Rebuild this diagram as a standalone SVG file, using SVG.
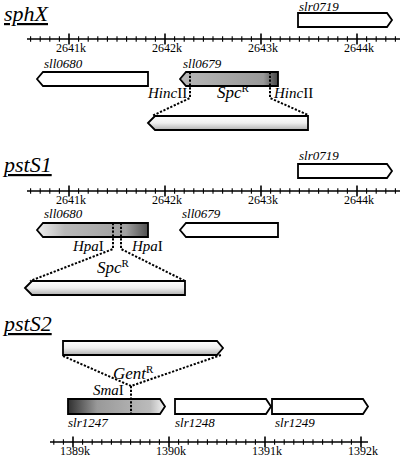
<svg xmlns="http://www.w3.org/2000/svg" width="400" height="456" viewBox="0 0 400 456">
<defs>
<style>
text{font-family:'Liberation Serif','DejaVu Serif',serif;fill:#000}
.t{font-size:22px;font-style:italic;text-decoration:underline}
.ax{font-size:12px;text-anchor:middle}
.g{font-size:13px;font-style:italic}
.site{font-size:15px}
.res{font-size:17px}
.i{font-style:italic}
.gene{stroke:#000;stroke-width:1.8;stroke-linejoin:miter}
.white{fill:#fff}
.axis{stroke:#000;stroke-width:1.6;fill:none}
.minor{stroke:#000;stroke-width:1.1;fill:none}
.dot{stroke:#000;stroke-width:2;stroke-dasharray:2.2,1.6;fill:none}
</style>
<linearGradient id="ins" x1="0" y1="0" x2="0" y2="1">
<stop offset="0" stop-color="#ffffff"/>
<stop offset="0.5" stop-color="#eeeeee"/>
<stop offset="1" stop-color="#b0b0b0"/>
</linearGradient>
<linearGradient id="g679" x1="0" y1="0" x2="1" y2="0">
<stop offset="0" stop-color="#b8b8b8"/>
<stop offset="0.85" stop-color="#999"/>
<stop offset="1" stop-color="#444"/>
</linearGradient>
<linearGradient id="g680" x1="0" y1="0" x2="1" y2="0">
<stop offset="0" stop-color="#f0f0f0"/>
<stop offset="0.25" stop-color="#b8b8b8"/>
<stop offset="0.8" stop-color="#a0a0a0"/>
<stop offset="1" stop-color="#505050"/>
</linearGradient>
<linearGradient id="g1247" x1="0" y1="0" x2="1" y2="0">
<stop offset="0" stop-color="#303030"/>
<stop offset="0.3" stop-color="#999"/>
<stop offset="0.85" stop-color="#bbb"/>
<stop offset="1" stop-color="#f4f4f4"/>
</linearGradient>
<path id="ticks1" class="minor" d="M30.6,-2.8v5.6M40.2,-2.8v5.6M49.8,-2.8v5.6M59.4,-2.8v5.6M78.6,-2.8v5.6M88.2,-2.8v5.6M97.8,-2.8v5.6M107.4,-2.8v5.6M117,-2.8v5.6M126.6,-2.8v5.6M136.2,-2.8v5.6M145.8,-2.8v5.6M155.4,-2.8v5.6M174.6,-2.8v5.6M184.2,-2.8v5.6M193.8,-2.8v5.6M203.4,-2.8v5.6M213,-2.8v5.6M222.6,-2.8v5.6M232.2,-2.8v5.6M241.8,-2.8v5.6M251.4,-2.8v5.6M270.6,-2.8v5.6M280.2,-2.8v5.6M289.8,-2.8v5.6M299.4,-2.8v5.6M309,-2.8v5.6M318.6,-2.8v5.6M328.2,-2.8v5.6M337.8,-2.8v5.6M347.4,-2.8v5.6M366.6,-2.8v5.6M376.2,-2.8v5.6M385.8,-2.8v5.6M395.4,-2.8v5.6"/>
<path id="major1" class="axis" d="M27,0H400M69,-5.5v11M165,-5.5v11M261,-5.5v11M357,-5.5v11"/>
</defs>

<g font-family="Liberation Serif, DejaVu Serif, serif">
<!-- sphX -->
<g id="title-sphX"><text class="t" x="4" y="21">sphX</text></g>
<g id="axis-sphX" transform="translate(0,39)">
<use href="#ticks1"/><use href="#major1"/>
<text class="ax" x="71" y="13">2641k</text><text class="ax" x="167" y="13">2642k</text><text class="ax" x="263" y="13">2643k</text><text class="ax" x="359" y="13">2644k</text>
</g>
<g id="sphX-slr0719"><polygon class="gene white" points="298,13 387,13 392,20 387,27 298,27"/><text class="g" x="299" y="11">slr0719</text></g>
<g id="sphX-sll0680"><polygon class="gene white" points="37,79 43,72 148,72 148,86 43,86"/><text class="g" x="44" y="68">sll0680</text></g>
<g id="sphX-sll0679"><polygon class="gene" fill="url(#g679)" points="180,79 186,72 278,72 278,86 186,86"/><text class="g" x="183" y="68">sll0679</text></g>
<g id="sphX-hinc-left"><text class="site" x="148" y="98"><tspan class="i">Hinc</tspan>II</text></g>
<g id="sphX-hinc-right"><text class="site" x="274" y="98"><tspan class="i">Hinc</tspan>II</text></g>
<g id="sphX-spc"><polygon class="gene" fill="url(#ins)" points="148,123 155,116 308,116 308,130 155,130"/><text class="res" x="217" y="98"><tspan class="i">Spc</tspan><tspan font-size="11" dy="-6">R</tspan></text></g>

<!-- pstS1 -->
<g id="title-pstS1"><text class="t" x="4" y="172">pstS1</text></g>
<g id="axis-pstS1" transform="translate(0,191)">
<use href="#ticks1"/><use href="#major1"/>
<text class="ax" x="71" y="13">2641k</text><text class="ax" x="167" y="13">2642k</text><text class="ax" x="263" y="13">2643k</text><text class="ax" x="359" y="13">2644k</text>
</g>
<g id="pstS1-slr0719"><polygon class="gene white" points="298,164 387,164 392,171 387,178 298,178"/><text class="g" x="299" y="160">slr0719</text></g>
<g id="pstS1-sll0680"><polygon class="gene" fill="url(#g680)" points="37,230 43,223 148,223 148,237 43,237"/><text class="g" x="44" y="218">sll0680</text></g>
<g id="pstS1-sll0679"><polygon class="gene white" points="180,230 186,223 278,223 278,237 186,237"/><text class="g" x="182" y="218">sll0679</text></g>
<g id="pstS1-hpa-left"><text class="site" x="73" y="251"><tspan class="i">Hpa</tspan>I</text></g>
<g id="pstS1-hpa-right"><text class="site" x="132" y="251"><tspan class="i">Hpa</tspan>I</text></g>
<g id="pstS1-spc"><polygon class="gene" fill="url(#ins)" points="25,288 32,281 185,281 185,295 32,295"/><text class="res" x="97" y="273"><tspan class="i">Spc</tspan><tspan font-size="11" dy="-6">R</tspan></text></g>

<!-- pstS2 -->
<g id="title-pstS2"><text class="t" x="4" y="331">pstS2</text></g>
<g id="pstS2-gent"><polygon class="gene" fill="url(#ins)" points="63,341 217,341 223,348 217,355 63,355"/><text class="res" x="113" y="379"><tspan class="i">Gent</tspan><tspan font-size="11" dy="-6">R</tspan></text></g>
<g id="pstS2-sma"><text class="site" x="93" y="395"><tspan class="i">Sma</tspan>I</text></g>
<g id="pstS2-slr1247"><polygon class="gene" fill="url(#g1247)" points="68,399 160,399 165,406.5 160,414 68,414"/><text class="g" x="68" y="427">slr1247</text></g>
<g id="pstS2-slr1248"><polygon class="gene white" points="175,399 266,399 271,406.5 266,414 175,414"/><text class="g" x="175" y="427">slr1248</text></g>
<g id="pstS2-slr1249"><polygon class="gene white" points="272,399 363,399 368,406.5 363,414 272,414"/><text class="g" x="275" y="427">slr1249</text></g>
<g id="axis-pstS2" transform="translate(0,442)">
<path class="minor" d="M53.8,-2.8v5.6M63.4,-2.8v5.6M82.6,-2.8v5.6M92.2,-2.8v5.6M101.8,-2.8v5.6M111.4,-2.8v5.6M121,-2.8v5.6M130.6,-2.8v5.6M140.2,-2.8v5.6M149.8,-2.8v5.6M159.4,-2.8v5.6M178.6,-2.8v5.6M188.2,-2.8v5.6M197.8,-2.8v5.6M207.4,-2.8v5.6M217,-2.8v5.6M226.6,-2.8v5.6M236.2,-2.8v5.6M245.8,-2.8v5.6M255.4,-2.8v5.6M274.6,-2.8v5.6M284.2,-2.8v5.6M293.8,-2.8v5.6M303.4,-2.8v5.6M313,-2.8v5.6M322.6,-2.8v5.6M332.2,-2.8v5.6M341.8,-2.8v5.6M351.4,-2.8v5.6"/>
<path class="axis" d="M50,0H368M73,-5.5v11M169,-5.5v11M265,-5.5v11M361,-5.5v11"/>
<text class="ax" x="75" y="12.5">1389k</text><text class="ax" x="171" y="12.5">1390k</text><text class="ax" x="267" y="12.5">1391k</text><text class="ax" x="363" y="12.5">1392k</text>
</g>
</g>

<!-- connectors -->
<g id="connectors">
<path class="dot" d="M190,72V98L152,116"/>
<path class="dot" d="M270,72V98L308,115"/>
<path class="dot" d="M113,223V249L30,281"/>
<path class="dot" d="M121,223V249L185,281"/>
<path class="dot" d="M63,356L131,386L221,355"/>
<path class="dot" d="M131,386V414"/>
</g>
</svg>
